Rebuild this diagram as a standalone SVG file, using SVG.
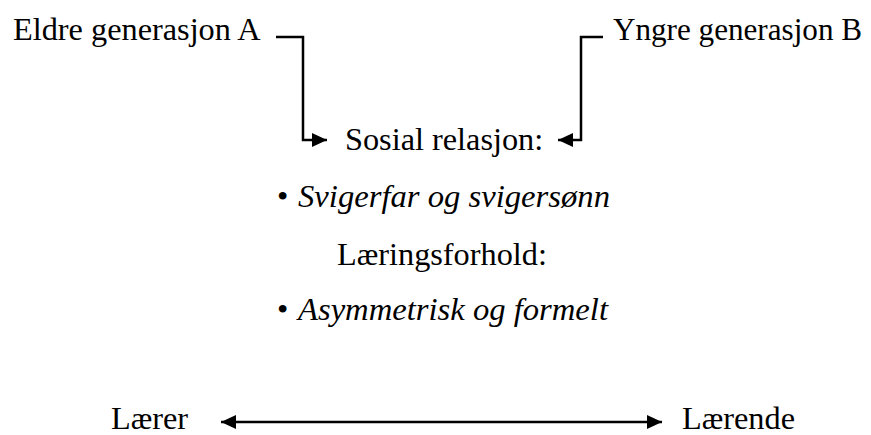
<svg xmlns="http://www.w3.org/2000/svg" width="871" height="435" viewBox="0 0 871 435">
<style>
text{font-family:"Liberation Serif","Times New Roman",serif;font-size:32.3px;fill:#000}
.it{font-style:italic}
.conn{fill:none;stroke:#000;stroke-width:2.5}
</style>
<defs>
<marker id="ah" markerUnits="userSpaceOnUse" markerWidth="16" markerHeight="14" refX="15" refY="7" orient="auto-start-reverse">
<path d="M0,0 L15,7 L0,14 z" fill="#000"/>
</marker>
</defs>
<g id="connectors">
<path class="conn" d="M276,37 H303 V140 H327" marker-end="url(#ah)"/>
<path class="conn" d="M603,37 H581 V140 H558" marker-end="url(#ah)"/>
<path class="conn" d="M221,422 H662" marker-start="url(#ah)" marker-end="url(#ah)"/>
</g>
<g id="eldre"><text x="13" y="40">Eldre generasjon A</text></g>
<g id="yngre"><text x="613" y="40" textLength="249" lengthAdjust="spacingAndGlyphs">Yngre generasjon B</text></g>
<g id="center">
<text x="345" y="150">Sosial relasjon:</text>
<text x="277" y="207">•</text>
<text class="it" x="298" y="207" textLength="312" lengthAdjust="spacingAndGlyphs">Svigerfar og svigersønn</text>
<text x="337" y="265">Læringsforhold:</text>
<text x="277" y="320">•</text>
<text class="it" x="298" y="320" textLength="310" lengthAdjust="spacingAndGlyphs">Asymmetrisk og formelt</text>
</g>
<g id="laerer"><text x="111" y="429">Lærer</text></g>
<g id="laerende"><text x="682" y="429">Lærende</text></g>
</svg>
